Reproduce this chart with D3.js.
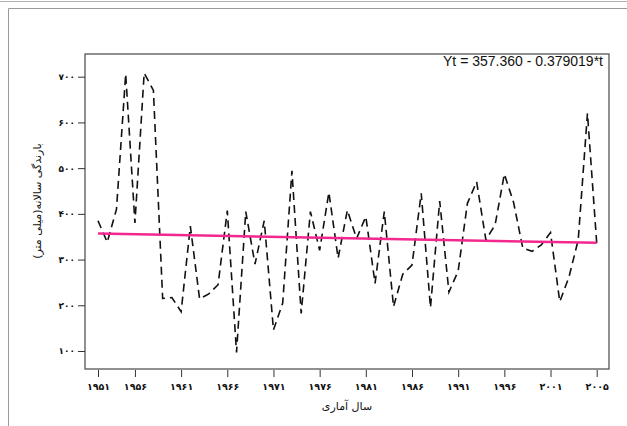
<!DOCTYPE html>
<html>
<head>
<meta charset="utf-8">
<script src="https://cdn.jsdelivr.net/npm/d3@7/dist/d3.min.js"></script>
<style>
  html, body { margin: 0; padding: 0; background: #ffffff; }
  svg { display: block; }
</style>
</head>
<body>
<svg id="chart" width="627" height="426"></svg>
<script>
// ---- data ----
const years = d3.range(1951, 2006); // 1951..2005 (55 years)
const rainfall = [
  385, 338, 410, 706, 380, 708, 670, 215, 217, 186,
  373, 214, 225, 245, 407, 97, 405, 290, 385, 146,
  205, 494, 182, 405, 320, 447, 303, 408, 346, 394,
  248, 405, 197, 268, 288, 445, 195, 428, 229, 275,
  423, 470, 343, 376, 487, 425, 325, 318, 332, 359,
  208, 262, 343, 620, 336
];
const trendIntercept = 357.360;
const trendSlope = -0.379019;
const trendLabel = "Yt = 357.360 - 0.379019*t";

const xTickIndex = [1, 5, 10, 15, 20, 25, 30, 35, 40, 45, 50, 55];
const xTickLabels = ["۱۹۵۱", "۱۹۵۶", "۱۹۶۱", "۱۹۶۶", "۱۹۷۱", "۱۹۷۶", "۱۹۸۱", "۱۹۸۶", "۱۹۹۱", "۱۹۹۶", "۲۰۰۱", "۲۰۰۵"];
const yTickValues = [100, 200, 300, 400, 500, 600, 700];
const yTickLabels = ["۱۰۰", "۲۰۰", "۳۰۰", "۴۰۰", "۵۰۰", "۶۰۰", "۷۰۰"];
const xTitle = "سال آماری";
const yTitle = "بارندگی سالانه(میلی متر)";

// ---- layout ----
const box = { left: 85, top: 54, right: 609, bottom: 369 };
const svg = d3.select("#chart");

const x = d3.scaleLinear().domain([1, 55]).range([98, 596.7]);
const y = d3.scaleLinear().domain([100, 700]).range([351, 76.7]);

// outer page frame
svg.append("line").attr("x1", 0).attr("x2", 627).attr("y1", 1.5).attr("y2", 1.5)
  .attr("stroke", "#b0b0b0").attr("stroke-width", 1);
svg.append("path").attr("d", "M8.5,426 L8.5,8.5 L627,8.5")
  .attr("fill", "none").attr("stroke", "#9a9a9a").attr("stroke-width", 1);

// plot box
svg.append("rect")
  .attr("x", box.left).attr("y", box.top)
  .attr("width", box.right - box.left).attr("height", box.bottom - box.top)
  .attr("fill", "none").attr("stroke", "#555").attr("stroke-width", 1.3);

// y axis
const yAxis = d3.axisLeft(y)
  .tickValues(yTickValues)
  .tickSize(7)
  .tickPadding(3)
  .tickFormat((d, i) => yTickLabels[i]);
const gy = svg.append("g").attr("transform", `translate(${box.left},0)`).call(yAxis);
gy.select(".domain").remove();
gy.selectAll(".tick line").attr("stroke", "#333").attr("stroke-width", 1);
gy.selectAll(".tick text")
  .attr("font-family", "DejaVu Sans").attr("font-size", 9).attr("font-weight", "bold")
  .attr("fill", "#111").attr("direction", "ltr");

// x axis
const xAxis = d3.axisBottom(x)
  .tickValues(xTickIndex)
  .tickSize(7)
  .tickPadding(6)
  .tickFormat((d, i) => xTickLabels[i]);
const gx = svg.append("g").attr("transform", `translate(0,${box.bottom + 1})`).call(xAxis);
gx.select(".domain").remove();
gx.selectAll(".tick line").attr("stroke", "#333").attr("stroke-width", 1);
gx.selectAll(".tick text")
  .attr("font-family", "DejaVu Sans").attr("font-size", 9.5).attr("font-weight", "bold")
  .attr("fill", "#111").attr("direction", "ltr");

// axis titles
svg.append("text")
  .attr("x", (box.left + box.right) / 2).attr("y", 410)
  .attr("text-anchor", "middle")
  .attr("font-family", "DejaVu Sans").attr("font-size", 11)
  .attr("fill", "#111")
  .text(xTitle);

svg.append("text")
  .attr("transform", "translate(41,201) rotate(-90)")
  .attr("text-anchor", "middle")
  .attr("font-family", "DejaVu Sans").attr("font-size", 11)
  .attr("fill", "#111")
  .text(yTitle);

// data line (dashed)
const series = rainfall.map((v, i) => ({ t: i + 1, v }));
svg.append("path")
  .datum(series)
  .attr("fill", "none")
  .attr("stroke", "#111")
  .attr("stroke-width", 1.6)
  .attr("stroke-dasharray", "8,5")
  .attr("d", d3.line().x(d => x(d.t)).y(d => y(d.v)));

// trend line
const trend = [1, 55].map(t => ({ t, v: trendIntercept + trendSlope * t }));
svg.append("path")
  .datum(trend)
  .attr("fill", "none")
  .attr("stroke", "#f2288f")
  .attr("stroke-width", 2.5)
  .attr("d", d3.line().x(d => x(d.t)).y(d => y(d.v)));

// equation label
svg.append("text")
  .attr("x", 603).attr("y", 66)
  .attr("text-anchor", "end")
  .attr("font-family", "Liberation Sans, Arial, sans-serif")
  .attr("font-size", 14)
  .attr("fill", "#111")
  .text(trendLabel);
</script>
</body>
</html>
